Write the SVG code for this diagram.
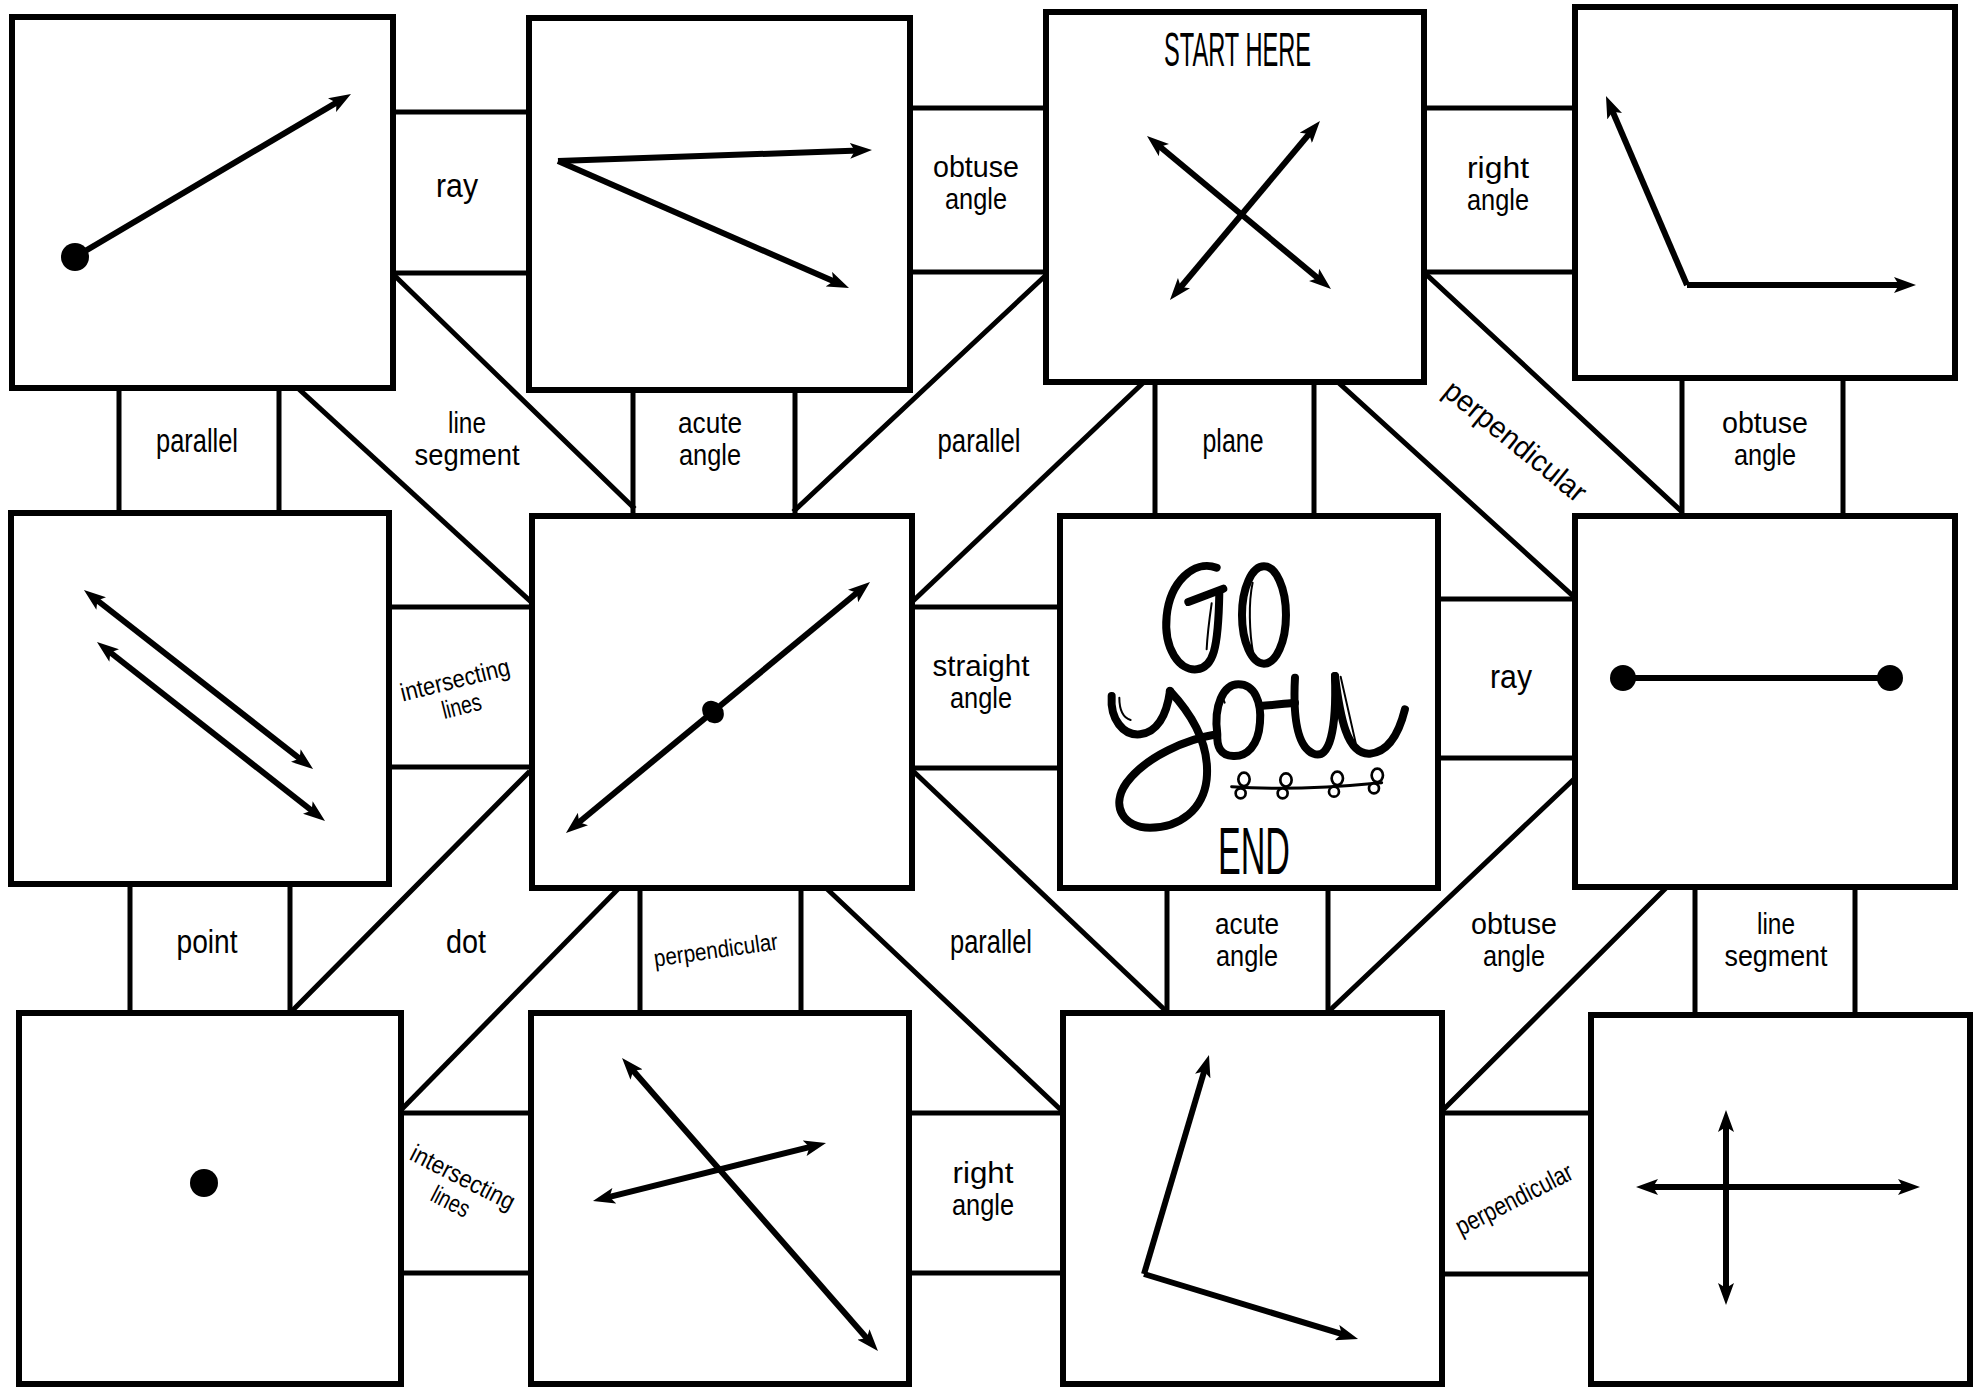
<svg xmlns="http://www.w3.org/2000/svg" width="1980" height="1387" viewBox="0 0 1980 1387">
<style>
.box{fill:#fff;stroke:#000;stroke-width:6}
.wall{fill:none;stroke:#000;stroke-width:5;stroke-linecap:square}
.arr{fill:none;stroke:#000;stroke-width:6;marker-end:url(#ah)}
.dbl{fill:none;stroke:#000;stroke-width:6;marker-start:url(#ah);marker-end:url(#ah)}
.seg{fill:none;stroke:#000;stroke-width:6}
.lbl{font-family:"Liberation Sans",Arial,sans-serif;font-size:33px;text-anchor:middle;fill:#000}
.two{font-size:30px}
.sm{font-size:25px}
.ttl{font-family:"Liberation Sans",Arial,sans-serif;text-anchor:middle;fill:#000}
.hand{fill:none;stroke:#000;stroke-width:24;stroke-linecap:round;stroke-linejoin:round}
.hl{fill:none;stroke:#000;stroke-width:6;stroke-linecap:round}
.leaf{fill:#fff;stroke:#000;stroke-width:8}
</style>
<defs>
<marker id="ah" viewBox="0 0 22 16" refX="9" refY="8" markerWidth="22" markerHeight="16" markerUnits="userSpaceOnUse" orient="auto-start-reverse">
<path d="M0,0 L22,8 L0,16 L5,8 z" fill="#000"/>
</marker>
</defs>
<rect width="1980" height="1387" fill="#fff"/>

<g id="connectors">
<path class="wall" d="M393,112H529M393,273H529"/>
<path class="wall" d="M910,108H1046M910,272H1046"/>
<path class="wall" d="M1424,108H1575M1424,272H1575"/>
<path class="wall" d="M389,607H532M389,767H532"/>
<path class="wall" d="M912,607H1060M912,768H1060"/>
<path class="wall" d="M1438,599H1575M1438,758H1575"/>
<path class="wall" d="M401,1113H531M401,1273H531"/>
<path class="wall" d="M909,1113H1063M909,1273H1063"/>
<path class="wall" d="M1442,1113H1591M1442,1274H1591"/>
<path class="wall" d="M119,388V513M279,388V513"/>
<path class="wall" d="M633,390V516M795,390V516"/>
<path class="wall" d="M1155,382V516M1314,382V516"/>
<path class="wall" d="M1682,378V516M1843,378V516"/>
<path class="wall" d="M130,884V1013M290,884V1013"/>
<path class="wall" d="M640,888V1013M801,888V1013"/>
<path class="wall" d="M1167,888V1013M1328,888V1013"/>
<path class="wall" d="M1695,887V1015M1855,887V1015"/>
<path class="wall" d="M396,277L633,507"/>
<path class="wall" d="M300,390L529,600"/>
<path class="wall" d="M795,510L1044,277"/>
<path class="wall" d="M1143,383L913,601"/>
<path class="wall" d="M1427,275L1680,510"/>
<path class="wall" d="M1339,383L1573,596"/>
<path class="wall" d="M528,773L292,1011"/>
<path class="wall" d="M619,888L402,1109"/>
<path class="wall" d="M913,771L1165,1010"/>
<path class="wall" d="M826,888L1060,1109"/>
<path class="wall" d="M1573,780L1328,1012"/>
<path class="wall" d="M1667,887L1443,1110"/>
</g>

<g id="labels">
<text class="lbl" x="457" y="197" textLength="42" lengthAdjust="spacingAndGlyphs">ray</text>
<text class="lbl two" x="976" y="177" textLength="86" lengthAdjust="spacingAndGlyphs">obtuse</text>
<text class="lbl two" x="976" y="209" textLength="62" lengthAdjust="spacingAndGlyphs">angle</text>
<text class="lbl two" x="1498" y="178" textLength="62" lengthAdjust="spacingAndGlyphs">right</text>
<text class="lbl two" x="1498" y="210" textLength="62" lengthAdjust="spacingAndGlyphs">angle</text>
<text class="lbl" x="197" y="452" textLength="82" lengthAdjust="spacingAndGlyphs">parallel</text>
<text class="lbl two" x="467" y="433" textLength="38" lengthAdjust="spacingAndGlyphs">line</text>
<text class="lbl two" x="467" y="465" textLength="105" lengthAdjust="spacingAndGlyphs">segment</text>
<text class="lbl two" x="710" y="433" textLength="64" lengthAdjust="spacingAndGlyphs">acute</text>
<text class="lbl two" x="710" y="465" textLength="62" lengthAdjust="spacingAndGlyphs">angle</text>
<text class="lbl" x="979" y="452" textLength="83" lengthAdjust="spacingAndGlyphs">parallel</text>
<text class="lbl" x="1233" y="452" textLength="61" lengthAdjust="spacingAndGlyphs">plane</text>
<text class="lbl" style="font-size:30px" transform="translate(1509,449) rotate(39)" textLength="174" lengthAdjust="spacingAndGlyphs">perpendicular</text>
<text class="lbl two" x="1765" y="433" textLength="86" lengthAdjust="spacingAndGlyphs">obtuse</text>
<text class="lbl two" x="1765" y="465" textLength="62" lengthAdjust="spacingAndGlyphs">angle</text>
<g transform="translate(457,688) rotate(-14)">
<text class="lbl sm" x="0" y="0" textLength="112" lengthAdjust="spacingAndGlyphs">intersecting</text>
<text class="lbl sm" x="0" y="27" textLength="40" lengthAdjust="spacingAndGlyphs">lines</text>
</g>
<text class="lbl two" x="981" y="676" textLength="97" lengthAdjust="spacingAndGlyphs">straight</text>
<text class="lbl two" x="981" y="708" textLength="62" lengthAdjust="spacingAndGlyphs">angle</text>
<text class="lbl" x="1511" y="688" textLength="42" lengthAdjust="spacingAndGlyphs">ray</text>
<text class="lbl" x="207" y="953" textLength="61" lengthAdjust="spacingAndGlyphs">point</text>
<text class="lbl" x="466" y="953" textLength="40" lengthAdjust="spacingAndGlyphs">dot</text>
<text class="lbl" style="font-size:24px" transform="translate(717,958) rotate(-8)" textLength="125" lengthAdjust="spacingAndGlyphs">perpendicular</text>
<text class="lbl" x="991" y="953" textLength="82" lengthAdjust="spacingAndGlyphs">parallel</text>
<text class="lbl two" x="1247" y="934" textLength="64" lengthAdjust="spacingAndGlyphs">acute</text>
<text class="lbl two" x="1247" y="966" textLength="62" lengthAdjust="spacingAndGlyphs">angle</text>
<text class="lbl two" x="1514" y="934" textLength="86" lengthAdjust="spacingAndGlyphs">obtuse</text>
<text class="lbl two" x="1514" y="966" textLength="62" lengthAdjust="spacingAndGlyphs">angle</text>
<text class="lbl two" x="1776" y="934" textLength="38" lengthAdjust="spacingAndGlyphs">line</text>
<text class="lbl two" x="1776" y="966" textLength="103" lengthAdjust="spacingAndGlyphs">segment</text>
<g transform="translate(459,1185) rotate(27)">
<text class="lbl sm" x="0" y="0" textLength="114" lengthAdjust="spacingAndGlyphs">intersecting</text>
<text class="lbl sm" x="0" y="27" textLength="40" lengthAdjust="spacingAndGlyphs">lines</text>
</g>
<text class="lbl two" x="983" y="1183" textLength="61" lengthAdjust="spacingAndGlyphs">right</text>
<text class="lbl two" x="983" y="1215" textLength="62" lengthAdjust="spacingAndGlyphs">angle</text>
<text class="lbl" style="font-size:26px" transform="translate(1518,1207) rotate(-27)" textLength="128" lengthAdjust="spacingAndGlyphs">perpendicular</text>
</g>

<g id="box-ray">
<rect class="box" x="12" y="17" width="381" height="371"/>
<circle cx="75" cy="257" r="14"/>
<path class="arr" d="M75,257L339.8,100.6"/>
</g>
<g id="box-acute-angle">
<rect class="box" x="529" y="18" width="381" height="372"/>
<path class="arr" d="M558,161L859,150.5"/>
<path class="arr" d="M558,161L837.1,282.8"/>
</g>
<g id="box-start">
<rect class="box" x="1046" y="12" width="378" height="370"/>
<text class="ttl" x="1237.5" y="66" font-size="48" textLength="147" lengthAdjust="spacingAndGlyphs">START HERE</text>
<path class="dbl" d="M1157,144.3L1321,280.7"/>
<path class="dbl" d="M1178.3,290L1311.6,131"/>
</g>
<g id="box-obtuse-angle">
<rect class="box" x="1575" y="7" width="380" height="371"/>
<path class="arr" d="M1687,285L1903,285"/>
<path class="arr" d="M1687,285L1611.1,108"/>
</g>
<g id="box-parallel">
<rect class="box" x="11" y="513" width="378" height="371"/>
<path class="dbl" d="M94.2,598L302.8,761"/>
<path class="dbl" d="M107.2,650L314.8,813"/>
</g>
<g id="box-straight-angle">
<rect class="box" x="532" y="516" width="380" height="372"/>
<path class="dbl" d="M576,824.7L860,590.3"/>
<ellipse cx="713" cy="712" rx="10" ry="12" transform="rotate(-40 713 712)"/>
</g>
<g id="box-end">
<rect class="box" x="1060" y="516" width="378" height="372"/>
<g transform="translate(1060,516) scale(0.3333)">
<path class="hand" d="M470,155C400,130 330,200 320,300C310,400 360,465 410,460C460,455 475,400 478,230"/>
<path class="hand" d="M385,258L490,218"/>
<path class="hl" d="M455,262C448,310 442,360 440,400"/>
<ellipse class="hand" cx="612" cy="297" rx="66" ry="146"/>
<path class="hl" d="M578,200C565,260 568,350 580,415"/>
<path class="hand" d="M155,540C150,610 190,660 240,655C290,650 320,600 330,525"/>
<path class="hand" d="M330,525C400,600 450,690 440,790C430,880 360,935 270,935C190,935 150,870 200,800C260,720 380,670 470,655"/>
<path class="hl" d="M178,545C178,585 190,605 212,612"/>
<path class="hand" d="M472,655C460,570 490,505 535,505C585,505 605,560 600,620C595,690 560,722 520,720C480,718 470,690 472,655"/>
<path class="hand" d="M600,570C640,568 680,562 705,560"/>
<path class="hl" d="M497,520C487,532 488,548 494,560"/>
<path class="hand" d="M705,485C700,580 705,690 760,713C810,733 830,640 825,480"/>
<path class="hand" d="M825,480C840,600 860,718 930,713C990,708 1020,640 1035,580"/>
<path class="hl" d="M842,482L887,680"/>
<path d="M515,812C650,822 800,816 965,800" fill="none" stroke="#000" stroke-width="9" stroke-linecap="round"/>
<ellipse class="leaf" cx="552" cy="790" rx="17" ry="20"/>
<ellipse class="leaf" cx="542" cy="832" rx="15" ry="15"/>
<ellipse class="leaf" cx="678" cy="792" rx="17" ry="20"/>
<ellipse class="leaf" cx="668" cy="832" rx="15" ry="15"/>
<ellipse class="leaf" cx="832" cy="787" rx="17" ry="20"/>
<ellipse class="leaf" cx="822" cy="827" rx="15" ry="15"/>
<ellipse class="leaf" cx="952" cy="778" rx="17" ry="20"/>
<ellipse class="leaf" cx="942" cy="817" rx="15" ry="15"/>
</g>
<text class="ttl" x="1254" y="874" font-size="66" textLength="72" lengthAdjust="spacingAndGlyphs">END</text>
</g>
<g id="box-line-segment">
<rect class="box" x="1575" y="516" width="380" height="371"/>
<path class="seg" d="M1623,678H1890"/>
<circle cx="1623" cy="678" r="13"/>
<circle cx="1890" cy="678" r="13"/>
</g>
<g id="box-point">
<rect class="box" x="19" y="1013" width="382" height="371"/>
<circle cx="204" cy="1183" r="14"/>
</g>
<g id="box-intersecting">
<rect class="box" x="531" y="1013" width="378" height="371"/>
<path class="dbl" d="M630.6,1067.8L869.4,1341.2"/>
<path class="dbl" d="M605.6,1197.9L813.4,1146.1"/>
</g>
<g id="box-right-angle">
<rect class="box" x="1063" y="1013" width="379" height="371"/>
<path class="arr" d="M1144,1274L1205.3,1067.5"/>
<path class="arr" d="M1144,1274L1345.6,1335.2"/>
</g>
<g id="box-perpendicular">
<rect class="box" x="1591" y="1015" width="379" height="369"/>
<path class="dbl" d="M1726,1123V1292"/>
<path class="dbl" d="M1649,1187H1907"/>
</g>
</svg>
